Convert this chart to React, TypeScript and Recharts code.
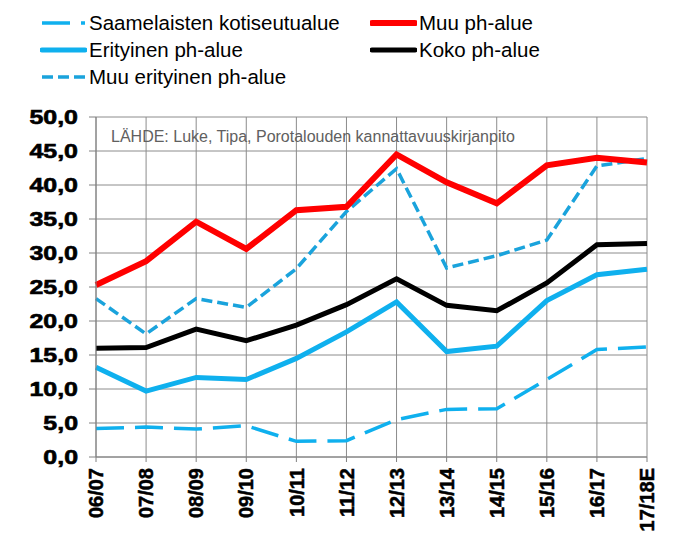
import React from 'react';
import { LineChart, Line, XAxis, YAxis, CartesianGrid } from 'recharts';

const CATEGORIES = ['06/07', '07/08', '08/09', '09/10', '10/11', '11/12', '12/13', '13/14', '14/15', '15/16', '16/17', '17/18E'];

const SAAMELAISTEN = [4.2, 4.4, 4.1, 4.6, 2.3, 2.4, 5.5, 7.0, 7.1, 11.4, 15.8, 16.2];
const ERITYINEN = [13.2, 9.7, 11.7, 11.4, 14.5, 18.4, 22.8, 15.5, 16.3, 23.0, 26.8, 27.6];
const MUU_ERITYINEN = [23.3, 18.1, 23.3, 22.0, 27.7, 36.1, 42.4, 27.8, 29.6, 31.9, 42.8, 43.9];
const MUU = [25.3, 28.8, 34.6, 30.6, 36.3, 36.8, 44.5, 40.4, 37.3, 42.9, 44.0, 43.3];
const KOKO = [16.0, 16.1, 18.8, 17.1, 19.4, 22.4, 26.2, 22.3, 21.5, 25.6, 31.2, 31.4];

const Y_TICKS = [0, 5, 10, 15, 20, 25, 30, 35, 40, 45, 50];

const SOURCE_NOTE = 'LÄHDE: Luke, Tipa, Porotalouden kannattavuuskirjanpito';

const FONT = '"Liberation Sans", Arial, Helvetica, sans-serif';

// series styles, legend order (column by column)
const SERIES = [
  { key: 'saame', name: 'Saamelaisten kotiseutualue', color: '#0fb0ee', width: 3.5, dash: '28 11' },
  { key: 'erit', name: 'Erityinen ph-alue', color: '#0fb0ee', width: 5, dash: undefined },
  { key: 'muuErit', name: 'Muu erityinen ph-alue', color: '#1aa3dc', width: 3.5, dash: '11 5' },
  { key: 'muu', name: 'Muu ph-alue', color: '#ff0000', width: 6, dash: undefined },
  { key: 'koko', name: 'Koko ph-alue', color: '#000000', width: 5, dash: undefined },
];

const data = CATEGORIES.map((c, i) => ({
  name: c,
  saame: SAAMELAISTEN[i],
  erit: ERITYINEN[i],
  muuErit: MUU_ERITYINEN[i],
  muu: MUU[i],
  koko: KOKO[i],
}));

const fmt = (v: number) => v.toFixed(1).replace('.', ',');

const YTick = (props: any) => {
  const { x, y, payload } = props;
  return (
    <text
      x={0}
      y={0}
      transform={`translate(${x},${y}) scale(1.28,1)`}
      textAnchor="end"
      dy="0.36em"
      fontSize={19.5}
      fontWeight="bold"
      fontFamily={FONT}
      fill="#000"
      stroke="#000"
      strokeWidth={0.6}
    >
      {fmt(payload.value)}
    </text>
  );
};

const XTick = (props: any) => {
  const { x, y, payload } = props;
  return (
    <text
      x={0}
      y={0}
      transform={`translate(${x},${y}) rotate(-90)`}
      textAnchor="end"
      dy="0.36em"
      fontSize={20}
      fontWeight="bold"
      fontFamily={FONT}
      fill="#000"
      stroke="#000"
      strokeWidth={0.5}
    >
      {payload.value}
    </text>
  );
};

const LegendBox = () => (
  <div
    style={{
      position: 'absolute',
      left: 40,
      top: 9,
      display: 'grid',
      gridTemplateColumns: '330px 300px',
      gridTemplateRows: 'repeat(3, 27px)',
      gridAutoFlow: 'column',
      fontFamily: FONT,
      fontSize: 20.5,
      color: '#000',
    }}
  >
    {SERIES.map((s) => (
      <div key={s.key} style={{ display: 'flex', alignItems: 'center', height: 27 }}>
        <svg width={47} height={10} style={{ marginRight: 2 }}>
          <line
            x1={2}
            y1={5}
            x2={45}
            y2={5}
            stroke={s.color}
            strokeWidth={s.width}
            strokeDasharray={s.dash}
            strokeLinecap={s.dash ? 'butt' : 'round'}
          />
        </svg>
        <span style={{ lineHeight: '27px' }}>{s.name}</span>
      </div>
    ))}
  </div>
);

export default function App() {
  return (
    <div style={{ position: 'absolute', left: 0, top: 0, width: 682, height: 534, background: '#fff' }}>
      <LineChart width={682} height={534} data={data} margin={{ top: 117, right: 35, bottom: 0, left: 0 }}>
        <CartesianGrid stroke="#8c8c8c" strokeWidth={1} />
        <XAxis
          dataKey="name"
          interval={0}
          tick={<XTick />}
          tickSize={5}
          tickMargin={6}
          height={77}
          stroke="#808080"
        />
        <YAxis
          domain={[0, 50]}
          ticks={Y_TICKS}
          tick={<YTick />}
          tickSize={7}
          tickMargin={11}
          width={96}
          stroke="#808080"
          allowDataOverflow
        />
        {SERIES.map((s) => (
          <Line
            key={s.key}
            dataKey={s.key}
            name={s.name}
            stroke={s.color}
            strokeWidth={s.width}
            strokeDasharray={s.dash}
            dot={false}
            activeDot={false}
            strokeLinejoin="miter"
            isAnimationActive={false}
          />
        ))}
      </LineChart>
      <div
        style={{
          position: 'absolute',
          left: 111,
          top: 128,
          fontFamily: FONT,
          fontSize: 16,
          lineHeight: '18px',
          color: '#606060',
          whiteSpace: 'nowrap',
        }}
      >
        {SOURCE_NOTE}
      </div>
      <LegendBox />
    </div>
  );
}
